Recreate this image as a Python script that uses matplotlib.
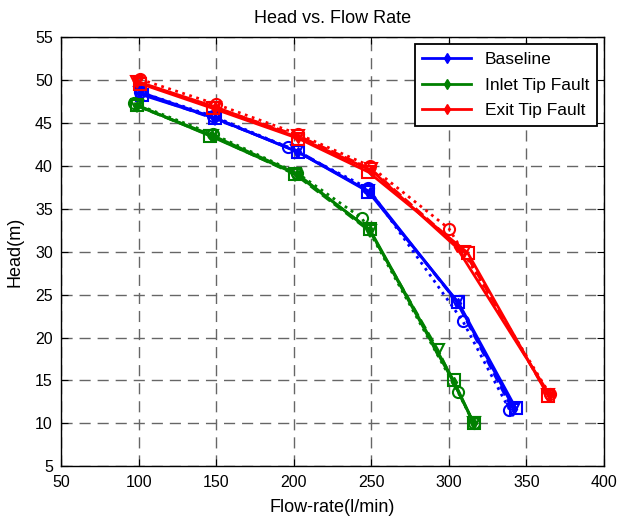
import matplotlib
matplotlib.use("Agg")
import matplotlib.pyplot as plt

plt.rcParams['font.family'] = ['Liberation Sans', 'DejaVu Sans']

# Baseline (blue)
base_d_x = [101, 149, 203, 249, 306, 342]
base_d_y = [48.6, 45.6, 41.6, 37.0, 24.0, 11.7]
base_v_x = [101, 149, 202, 248, 305, 341]
base_v_y = [48.5, 45.5, 41.8, 37.1, 24.2, 11.6]
base_o_x = [101, 148, 196, 248, 309, 339]
base_o_y = [48.6, 45.8, 42.2, 37.4, 21.9, 11.6]
base_s_x = [102, 149, 203, 248, 306, 343]
base_s_y = [48.3, 45.6, 41.6, 37.0, 24.1, 11.8]

# Inlet Tip Fault (green)
inlet_d_x = [99, 147, 202, 249, 303, 316]
inlet_d_y = [47.0, 43.6, 39.1, 32.5, 14.8, 10.0]
inlet_v_x = [99, 147, 201, 249, 293, 316]
inlet_v_y = [47.0, 43.5, 39.0, 32.4, 18.5, 10.0]
inlet_o_x = [97, 148, 202, 244, 306, 316]
inlet_o_y = [47.3, 43.7, 39.2, 33.9, 13.6, 10.0]
inlet_s_x = [99, 146, 201, 249, 303, 316]
inlet_s_y = [47.1, 43.5, 39.1, 32.6, 15.0, 10.0]

# Exit Tip Fault (red)
exit_d_x = [98, 149, 203, 250, 305, 365]
exit_d_y = [49.9, 46.9, 43.3, 39.5, 30.5, 13.3]
exit_v_x = [99, 149, 203, 250, 310, 364]
exit_v_y = [49.8, 46.8, 43.5, 39.6, 30.0, 13.3]
exit_o_x = [101, 150, 203, 249, 300, 365]
exit_o_y = [50.1, 47.2, 43.7, 40.0, 32.7, 13.4]
exit_s_x = [101, 148, 203, 248, 312, 364]
exit_s_y = [49.6, 46.7, 43.2, 39.3, 29.9, 13.2]

labels = ["Baseline", "Inlet Tip Fault", "Exit Tip Fault"]
colors = ["#0000ff", "#008000", "#ff0000"]

groups = [
    [(base_d_x, base_d_y), (base_v_x, base_v_y), (base_o_x, base_o_y), (base_s_x, base_s_y)],
    [(inlet_d_x, inlet_d_y), (inlet_v_x, inlet_v_y), (inlet_o_x, inlet_o_y), (inlet_s_x, inlet_s_y)],
    [(exit_d_x, exit_d_y), (exit_v_x, exit_v_y), (exit_o_x, exit_o_y), (exit_s_x, exit_s_y)],
]

fig = plt.figure(figsize=(6.24, 5.18), dpi=100)
ax = fig.add_axes([0.098, 0.100, 0.870, 0.828])

handles = []
for g, (lab, c) in enumerate(zip(labels, colors)):
    (dx, dy), (vx, vy), (ox, oy), (sx, sy) = groups[g]
    h, = ax.plot(dx, dy, '-', color=c, lw=2, marker='d', ms=5, mfc=c, mec=c, label=lab)
    handles.append(h)
    ax.plot(vx, vy, '--', color=c, lw=2, marker='v', ms=8, mfc='none', mec=c, mew=1.5)
    ax.plot(ox, oy, ':', color=c, lw=2, marker='o', ms=8, mfc='none', mec=c, mew=1.5)
    ax.plot(sx, sy, '-', color=c, lw=2, marker='s', ms=8, mfc='none', mec=c, mew=1.5)

ax.set_xlim(50, 400)
ax.set_ylim(5, 55)
ax.set_xticks(range(50, 401, 50))
ax.set_yticks(range(5, 56, 5))
ax.grid(True, linestyle=(0, (8, 5)), color='#666666', lw=1.0)
ax.tick_params(direction='in', top=True, right=True, labelsize=11.5, length=5, pad=6)
for sp in ax.spines.values():
    sp.set_linewidth(1.0)

ax.set_title("Head vs. Flow Rate", fontsize=13, pad=10)
ax.set_xlabel("Flow-rate(l/min)", fontsize=13, labelpad=7)
ax.set_ylabel("Head(m)", fontsize=13, labelpad=8)

leg = ax.legend(handles=handles, loc='upper right', fontsize=12.5, fancybox=False,
                edgecolor='black', framealpha=1, borderaxespad=0.4, handlelength=2.8,
                labelspacing=0.6, borderpad=0.45)
leg.get_frame().set_linewidth(1.3)

fig.savefig("out.png", dpi=100)
